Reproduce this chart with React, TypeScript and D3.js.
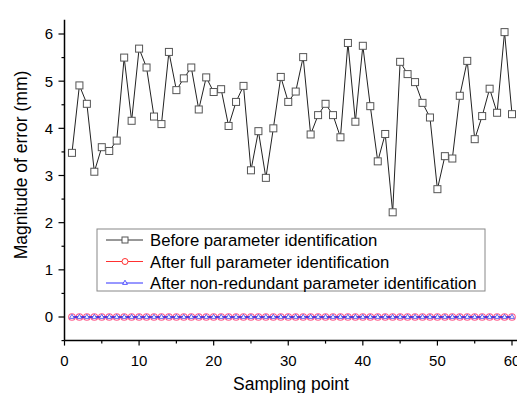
import React, { useEffect, useRef } from 'react';
import * as d3 from 'd3';

// error magnitude (mm) at each sampling point
const beforeIdent = [
  3.48, 4.91, 4.52, 3.08, 3.6, 3.52, 3.74, 5.5, 4.16, 5.69,
  5.29, 4.25, 4.09, 5.62, 4.81, 5.06, 5.29, 4.4, 5.08, 4.77,
  4.83, 4.05, 4.56, 4.9, 3.11, 3.94, 2.95, 4.0, 5.09, 4.56,
  4.78, 5.51, 3.87, 4.28, 4.52, 4.28, 3.81, 5.81, 4.14, 5.75,
  4.47, 3.3, 3.88, 2.22, 5.41, 5.15, 4.98, 4.54, 4.23, 2.71,
  3.41, 3.36, 4.69, 5.43, 3.77, 4.26, 4.84, 4.33, 6.04, 4.3,
];
const afterFull = [
  0, 0, 0, 0, 0, 0, 0, 0, 0, 0, 0, 0, 0, 0, 0, 0, 0, 0, 0, 0,
  0, 0, 0, 0, 0, 0, 0, 0, 0, 0, 0, 0, 0, 0, 0, 0, 0, 0, 0, 0,
  0, 0, 0, 0, 0, 0, 0, 0, 0, 0, 0, 0, 0, 0, 0, 0, 0, 0, 0, 0,
];
const afterNonRedundant = [
  0, 0, 0, 0, 0, 0, 0, 0, 0, 0, 0, 0, 0, 0, 0, 0, 0, 0, 0, 0,
  0, 0, 0, 0, 0, 0, 0, 0, 0, 0, 0, 0, 0, 0, 0, 0, 0, 0, 0, 0,
  0, 0, 0, 0, 0, 0, 0, 0, 0, 0, 0, 0, 0, 0, 0, 0, 0, 0, 0, 0,
];
const legendLabels = [
  'Before parameter identification',
  'After full parameter identification',
  'After non-redundant parameter identification',
];
const xTicks = [0, 10, 20, 30, 40, 50, 60];
const yTicks = [0, 1, 2, 3, 4, 5, 6];

const FONT = 'Arial, "Liberation Sans", sans-serif';

const App: React.FC = () => {
  const ref = useRef<SVGSVGElement | null>(null);

  useEffect(() => {
    const W = 517;
    const H = 393;
    const svg = d3.select(ref.current);
    svg.selectAll('*').remove();
    svg.attr('width', W).attr('height', H);

    svg.append('rect').attr('width', W).attr('height', H).attr('fill', 'white');

    const x = d3.scaleLinear().domain([0, 60]).range([64.5, 512]);
    const y = d3.scaleLinear().domain([0, 6]).range([317, 34]);
    const xEnd = 517;
    const yTop = y(6.3);
    const yBot = y(-0.5);

    const toPts = (vals: number[]) => vals.map((v, i) => ({ sx: i + 1, v }));

    // axes
    const ax = svg.append('g');
    ax.append('line')
      .attr('x1', x(0)).attr('x2', xEnd).attr('y1', yBot).attr('y2', yBot)
      .attr('stroke', '#000').attr('stroke-width', 1.5);
    ax.append('line')
      .attr('x1', x(0)).attr('x2', x(0)).attr('y1', yTop).attr('y2', yBot)
      .attr('stroke', '#000').attr('stroke-width', 1.5);

    d3.range(0, 61, 5).forEach(t => {
      const major = t % 10 === 0;
      ax.append('line')
        .attr('x1', x(t)).attr('x2', x(t))
        .attr('y1', yBot).attr('y2', yBot + (major ? 5 : 3))
        .attr('stroke', '#000').attr('stroke-width', 1.2);
    });
    xTicks.forEach(t => {
      ax.append('text')
        .attr('x', x(t)).attr('y', yBot + 25)
        .attr('text-anchor', 'middle')
        .style('font-family', FONT).style('font-size', '15px')
        .text(String(t));
    });

    d3.range(-0.5, 6.01, 0.5).forEach(t => {
      const major = Math.abs(t - Math.round(t)) < 1e-6;
      ax.append('line')
        .attr('x1', x(0)).attr('x2', x(0) - (major ? 6 : 3))
        .attr('y1', y(t)).attr('y2', y(t))
        .attr('stroke', '#000').attr('stroke-width', 1.2);
    });
    yTicks.forEach(t => {
      ax.append('text')
        .attr('x', 53).attr('y', y(t))
        .attr('dy', '0.36em')
        .attr('text-anchor', 'end')
        .style('font-family', FONT).style('font-size', '15px')
        .text(String(t));
    });

    svg.append('text')
      .attr('x', 291).attr('y', 390)
      .attr('text-anchor', 'middle')
      .style('font-family', FONT).style('font-size', '17.5px')
      .text('Sampling point');

    svg.append('text')
      .attr('transform', 'translate(27,165) rotate(-90)')
      .attr('text-anchor', 'middle')
      .style('font-family', FONT).style('font-size', '17.5px')
      .text('Magnitude of error (mm)');

    const line = d3.line<{ sx: number; v: number }>()
      .x(d => x(d.sx))
      .y(d => y(d.v));

    // before identification
    const before = toPts(beforeIdent);
    svg.append('path')
      .datum(before)
      .attr('d', line)
      .attr('fill', 'none')
      .attr('stroke', '#222')
      .attr('stroke-width', 1);
    svg.selectAll('.sq')
      .data(before)
      .enter().append('rect')
      .attr('class', 'sq')
      .attr('x', d => x(d.sx) - 3.5)
      .attr('y', d => y(d.v) - 3.5)
      .attr('width', 7).attr('height', 7)
      .attr('fill', 'white')
      .attr('stroke', '#555')
      .attr('stroke-width', 1);

    // after full identification (red circles)
    const full = toPts(afterFull);
    svg.append('path')
      .datum(full)
      .attr('d', line)
      .attr('fill', 'none')
      .attr('stroke', '#ff3030')
      .attr('stroke-width', 1);
    svg.selectAll('.circ')
      .data(full)
      .enter().append('circle')
      .attr('class', 'circ')
      .attr('cx', d => x(d.sx))
      .attr('cy', d => y(d.v))
      .attr('r', 3.3)
      .attr('fill', 'white')
      .attr('stroke', '#ff5a8a')
      .attr('stroke-width', 1.1);

    // after non-redundant identification (blue triangles)
    const nonRed = toPts(afterNonRedundant);
    svg.append('path')
      .datum(nonRed)
      .attr('d', line)
      .attr('fill', 'none')
      .attr('stroke', '#2020e0')
      .attr('stroke-width', 1.3);
    const tri = d3.symbol().type(d3.symbolTriangle).size(10);
    svg.selectAll('.tri')
      .data(nonRed)
      .enter().append('path')
      .attr('class', 'tri')
      .attr('transform', d => `translate(${x(d.sx)},${y(d.v)})`)
      .attr('d', tri)
      .attr('fill', 'white')
      .attr('stroke', '#4040e8')
      .attr('stroke-width', 0.8);

    // legend
    const lg = svg.append('g');
    lg.append('rect')
      .attr('x', 97).attr('y', 229)
      .attr('width', 388).attr('height', 62)
      .attr('fill', 'white')
      .attr('stroke', '#888')
      .attr('stroke-width', 1);
    const legColors = ['#333', '#ff3030', '#3030ff'];
    legendLabels.forEach((lab, i) => {
      const cy = 240 + i * 21.5;
      lg.append('line')
        .attr('x1', 106).attr('x2', 143).attr('y1', cy).attr('y2', cy)
        .attr('stroke', legColors[i]).attr('stroke-width', 1);
      if (i === 0) {
        lg.append('rect')
          .attr('x', 122).attr('y', cy - 3).attr('width', 6).attr('height', 6)
          .attr('fill', 'white').attr('stroke', '#555');
      } else if (i === 1) {
        lg.append('circle')
          .attr('cx', 125).attr('cy', cy).attr('r', 3)
          .attr('fill', 'white').attr('stroke', '#ff3030');
      } else {
        lg.append('path')
          .attr('transform', `translate(125,${cy})`)
          .attr('d', tri)
          .attr('fill', 'white').attr('stroke', '#3030ff').attr('stroke-width', 0.8);
      }
      lg.append('text')
        .attr('x', 150).attr('y', cy)
        .attr('dy', '0.36em')
        .style('font-family', FONT).style('font-size', '16.7px')
        .text(lab);
    });
  }, []);

  return (
    <svg ref={ref} style={{ position: 'absolute', left: 0, top: 0 }}></svg>
  );
};

export default App;
